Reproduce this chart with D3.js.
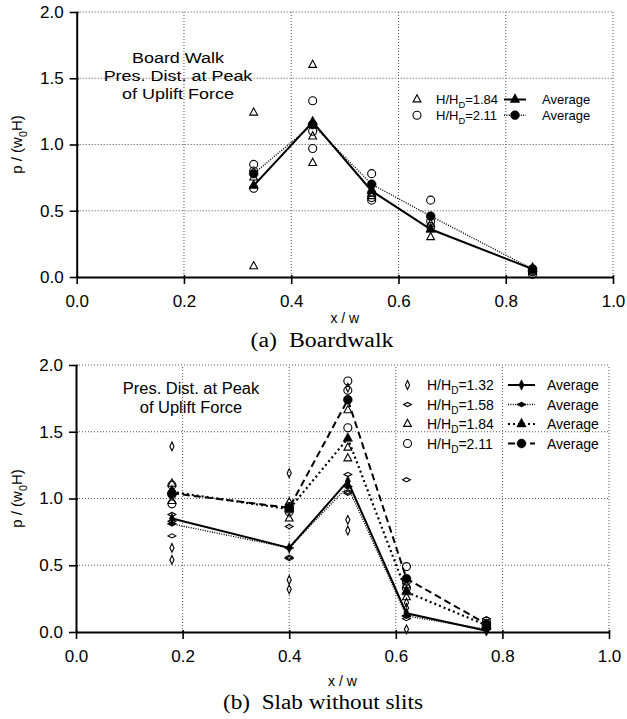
<!DOCTYPE html>
<html>
<head>
<meta charset="utf-8">
<script src="https://cdn.jsdelivr.net/npm/d3@7"></script>
<style>
  body { margin: 0; background: #fff; }
  text { fill: #000; }
</style>
</head>
<body>
<svg id="fig" width="627" height="719"></svg>
<script>
// ---------- shared axis settings ----------
const xTicks = [0, 0.2, 0.4, 0.6, 0.8, 1.0];
const yTicks = [0, 0.5, 1.0, 1.5, 2.0];

// ---------- (a) Boardwalk ----------
const boardX = [0.33, 0.44, 0.55, 0.66, 0.85];
// individual runs at each gauge position
const board184 = [[1.24, 0.75, 0.08], [1.60, 1.06, 0.86], [0.66, 0.63, 0.61], [0.40, 0.36, 0.30], [0.07, 0.05, 0.04]];
const board211 = [[0.85, 0.80, 0.67], [1.33, 1.10, 0.97], [0.78, 0.60, 0.58], [0.58, 0.42, 0.38], [0.06, 0.04, 0.02]];
// averages
const board184Avg = [0.69, 1.17, 0.65, 0.36, 0.06];
const board211Avg = [0.78, 1.15, 0.70, 0.46, 0.06];

// ---------- (b) Slab without slits ----------
const slabX = [0.18, 0.40, 0.51, 0.62, 0.77];
const slab132 = [[1.39, 0.63, 0.54], [1.19, 0.39, 0.32], [1.83, 0.84, 0.76], [0.22, 0.18, 0.02], [0.03, 0.02, 0.01]];
const slab158 = [[0.88, 0.83, 0.72], [0.79, 0.56, 0.55], [1.18, 1.05, 1.04], [1.14, 0.12, 0.10], [0.10, 0.03, 0.02]];
const slab184 = [[1.11, 1.06, 0.98], [0.97, 0.93, 0.85], [1.66, 1.38, 1.30], [0.35, 0.31, 0.26], [0.06, 0.05, 0.04]];
const slab211 = [[1.10, 1.03, 0.96], [0.94, 0.92, 0.90], [1.88, 1.81, 1.53], [0.49, 0.38, 0.33], [0.08, 0.05, 0.04]];
const slab132Avg = [0.85, 0.63, 1.13, 0.14, 0.01];
const slab158Avg = [0.81, 0.63, 1.09, 0.12, 0.02];
const slab184Avg = [1.05, 0.92, 1.45, 0.30, 0.05];
const slab211Avg = [1.04, 0.93, 1.74, 0.40, 0.06];

const sans = "'Liberation Sans', Arial, Helvetica, sans-serif";
const serif = "'Liberation Serif', 'Times New Roman', serif";
const svg = d3.select("#fig");

// marker outlines centred on (0,0)
function shape(kind, filled) {
  const k = filled ? 1.2 : 1;
  switch (kind) {
    case "tri": {
      const w = 3.9 * k, h = 7.2 * k;
      return `M0,${-h * 2 / 3}L${w},${h / 3}L${-w},${h / 3}Z`;
    }
    case "circ": {
      const r = 4 * (filled ? 1.1 : 1);
      return `M${r},0A${r},${r} 0 1,1 ${-r},0A${r},${r} 0 1,1 ${r},0Z`;
    }
    case "vdia": {
      const w = 2.1 * k, h = 4.4 * k;
      return `M0,${-h}L${w},0L0,${h}L${-w},0Z`;
    }
    case "hdia": {
      const w = 3.9 * k, h = 2.1 * k;
      return `M${-w},0L0,${-h}L${w},0L0,${h}Z`;
    }
  }
}

const lineStyles = {
  solid:  { w: 2,   dash: null },
  fine:   { w: 1.4, dash: "1,1.4" },
  coarse: { w: 2.2, dash: "2,3" },
  dashed: { w: 2,   dash: "7,4" }
};

function styleLine(sel, st) {
  sel.attr("fill", "none").attr("stroke", "#000").attr("stroke-width", lineStyles[st].w);
  if (lineStyles[st].dash) sel.attr("stroke-dasharray", lineStyles[st].dash);
  return sel;
}

function hSub(sel, base, sub, tail, fs) {
  sel.append("tspan").text(base);
  sel.append("tspan").text(sub).attr("font-size", fs * 0.72).attr("dy", fs * 0.3);
  sel.append("tspan").text(tail).attr("dy", -fs * 0.3);
}

function panel(cfg) {
  const g = svg.append("g");
  const x = d3.scaleLinear().domain([0, 1]).range([cfg.left, cfg.right]);
  const y = d3.scaleLinear().domain([0, 2]).range([cfg.bottom, cfg.top]);

  // dotted grid (includes the top and right frame)
  g.append("g").selectAll("line").data(xTicks.slice(1)).join("line")
    .attr("x1", d => x(d)).attr("x2", d => x(d))
    .attr("y1", y(0)).attr("y2", y(2))
    .attr("stroke", "#555").attr("stroke-width", 1).attr("stroke-dasharray", "1,2");
  g.append("g").selectAll("line").data(yTicks.slice(1)).join("line")
    .attr("x1", x(0)).attr("x2", x(1))
    .attr("y1", d => y(d)).attr("y2", d => y(d))
    .attr("stroke", "#555").attr("stroke-width", 1).attr("stroke-dasharray", "1,2");

  // axes
  const fmt = d3.format(".1f");
  const xa = g.append("g").attr("transform", `translate(0,${y(0)})`)
    .call(d3.axisBottom(x).tickValues(xTicks).tickFormat(fmt).tickSizeInner(7).tickSizeOuter(0).tickPadding(11));
  const ya = g.append("g").attr("transform", `translate(${x(0)},0)`)
    .call(d3.axisLeft(y).tickValues(yTicks).tickFormat(fmt).tickSizeInner(7).tickSizeOuter(0).tickPadding(6));
  [xa, ya].forEach(a => {
    a.select(".domain").attr("stroke", "#000").attr("stroke-width", 2);
    a.selectAll(".tick line").attr("stroke", "#000").attr("stroke-width", 1.6);
    a.selectAll(".tick text").attr("font-family", sans).attr("font-size", 17).attr("fill", "#000");
  });
  xa.selectAll(".tick line").attr("y1", -2);
  ya.selectAll(".tick line").attr("x1", 2);

  // axis titles
  g.append("text").attr("x", (x(0) + x(1)) / 2).attr("y", cfg.xTitleY)
    .attr("text-anchor", "middle").attr("font-family", sans).attr("font-size", 14).text("x / w");
  const yt = g.append("text")
    .attr("transform", `translate(22,${(y(0) + y(2)) / 2}) rotate(-90)`)
    .attr("text-anchor", "middle").attr("font-family", sans).attr("font-size", 15);
  hSub(yt, "p / (w", "0", "H)", 15);

  // caption
  g.append("text").attr("x", cfg.capX).attr("y", cfg.capY)
    .attr("text-anchor", "middle").attr("font-family", serif).attr("font-size", 20.5)
    .attr("textLength", cfg.capLen).attr("lengthAdjust", "spacingAndGlyphs")
    .style("white-space", "pre").text(cfg.caption);

  // annotation (slightly widened type)
  const note = g.append("text").attr("font-family", sans).attr("font-size", cfg.noteSize)
    .attr("text-anchor", "middle")
    .attr("transform", `translate(${cfg.noteX},0) scale(${cfg.noteStretch},1)`);
  cfg.note.forEach((t, i) => note.append("tspan").attr("x", 0)
    .attr("y", cfg.noteY + i * cfg.noteStep).text(t));

  // individual runs (open symbols)
  cfg.series.forEach(s => {
    const pts = cfg.xs.flatMap((xv, i) => s.runs[i].map(v => [xv, v]));
    g.append("g").selectAll("path").data(pts).join("path")
      .attr("d", shape(s.kind, false))
      .attr("transform", d => `translate(${x(d[0])},${y(d[1])})`)
      .attr("fill", "none").attr("stroke", "#000").attr("stroke-width", 1.1);
  });

  // averages: lines with filled symbols
  const line = d3.line().x(d => x(d[0])).y(d => y(d[1]));
  cfg.series.forEach(s => {
    const pts = d3.zip(cfg.xs, s.avg);
    styleLine(g.append("path").attr("d", line(pts)), s.line);
    g.append("g").selectAll("path").data(pts).join("path")
      .attr("d", shape(s.kind, true))
      .attr("transform", d => `translate(${x(d[0])},${y(d[1])})`)
      .attr("fill", "#000").attr("stroke", "#000").attr("stroke-width", 0.6);
  });

  // legend
  const L = cfg.legend;
  cfg.series.forEach((s, i) => {
    const cy = L.y + i * L.step;
    g.append("path").attr("d", shape(s.kind, false))
      .attr("transform", `translate(${L.symX},${cy})`)
      .attr("fill", "none").attr("stroke", "#000").attr("stroke-width", 1.1);
    const t = g.append("text").attr("x", L.textX).attr("y", cy + L.fs * 0.36)
      .attr("font-family", sans).attr("font-size", L.fs);
    hSub(t, "H/H", "D", "=" + s.label, L.fs);
    styleLine(g.append("line").attr("x1", L.lineX0).attr("x2", L.lineX1)
      .attr("y1", cy).attr("y2", cy), s.line);
    g.append("path").attr("d", shape(s.kind, true))
      .attr("transform", `translate(${(L.lineX0 + L.lineX1) / 2},${cy})`)
      .attr("fill", "#000").attr("stroke", "#000").attr("stroke-width", 0.6);
    g.append("text").attr("x", L.avgX).attr("y", cy + L.fs * 0.36)
      .attr("font-family", sans).attr("font-size", L.fs).text("Average");
  });
}

panel({
  left: 76.7, right: 613, top: 12, bottom: 277,
  xTitleY: 323, capX: 322, capY: 346.5, capLen: 143, caption: "(a)  Boardwalk",
  note: ["Board Walk", "Pres. Dist. at Peak", "of Uplift Force"],
  noteX: 178, noteY: 63, noteStep: 18, noteSize: 15.5, noteStretch: 1.16,
  xs: boardX,
  series: [
    { label: "1.84", kind: "tri",  runs: board184, avg: board184Avg, line: "solid" },
    { label: "2.11", kind: "circ", runs: board211, avg: board211Avg, line: "fine" }
  ],
  legend: { y: 99.5, step: 15.7, fs: 13, symX: 417, textX: 436, lineX0: 504, lineX1: 526, avgX: 542 }
});

panel({
  left: 76, right: 609, top: 365, bottom: 632,
  xTitleY: 686, capX: 323, capY: 709, capLen: 200, caption: "(b)  Slab without slits",
  note: ["Pres. Dist. at Peak", "of Uplift Force"],
  noteX: 191, noteY: 394.5, noteStep: 19, noteSize: 16, noteStretch: 1.03,
  xs: slabX,
  series: [
    { label: "1.32", kind: "vdia", runs: slab132, avg: slab132Avg, line: "solid" },
    { label: "1.58", kind: "hdia", runs: slab158, avg: slab158Avg, line: "fine" },
    { label: "1.84", kind: "tri",  runs: slab184, avg: slab184Avg, line: "coarse" },
    { label: "2.11", kind: "circ", runs: slab211, avg: slab211Avg, line: "dashed" }
  ],
  legend: { y: 385, step: 19.5, fs: 14, symX: 407.5, textX: 427, lineX0: 508, lineX1: 535, avgX: 547 }
});
</script>
</body>
</html>
